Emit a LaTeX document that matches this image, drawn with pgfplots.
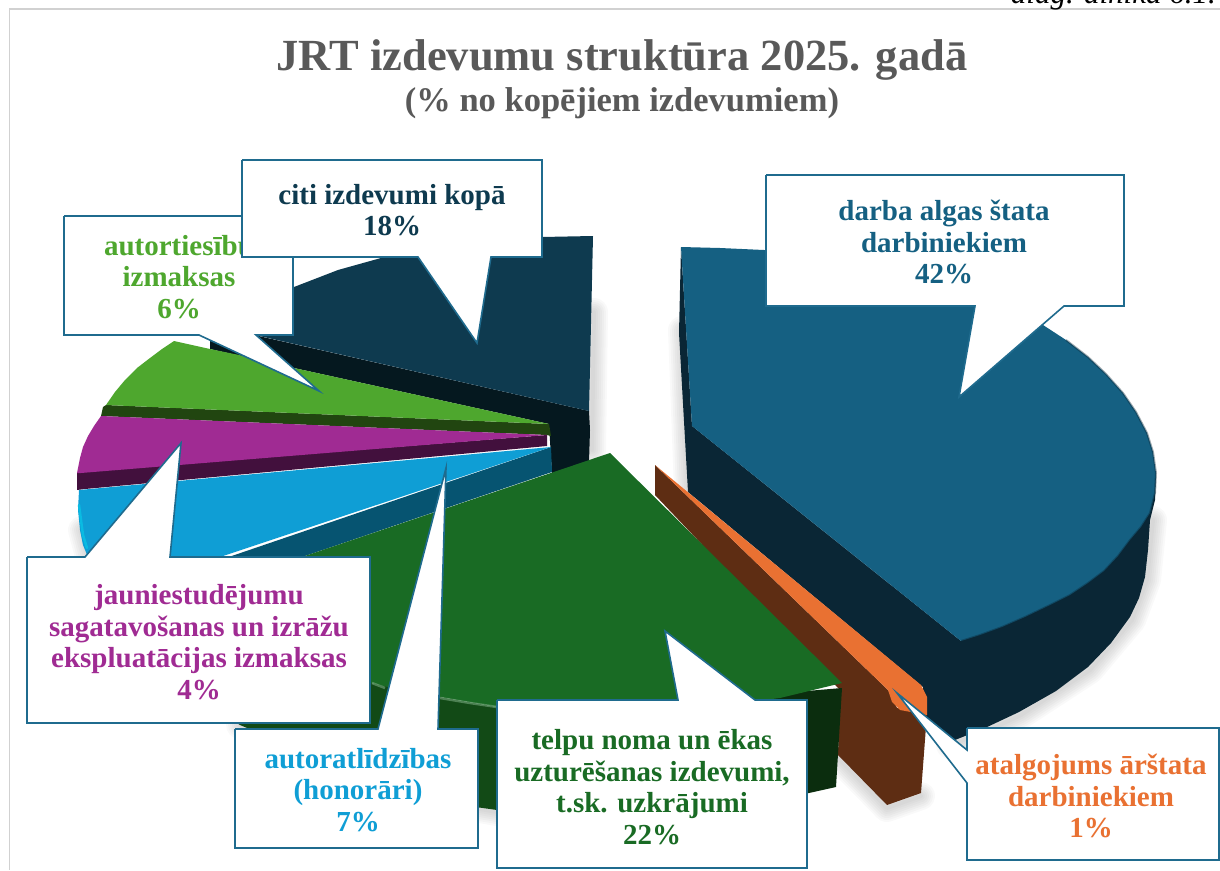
\documentclass[border=0pt]{standalone}
\usepackage{pgfplots}
\pgfplotsset{compat=1.18}
\usepackage{fontspec}
\setmainfont{Liberation Serif}
\definecolor{cblue}{HTML}{156082}
\definecolor{cbluesd}{HTML}{0A2635}
\definecolor{cnavy}{HTML}{0E3A4F}
\definecolor{cnavysd}{HTML}{05181F}
\definecolor{cora}{HTML}{E97132}
\definecolor{corasd}{HTML}{5E2D13}
\definecolor{cgrn}{HTML}{196B24}
\definecolor{cgrnsd}{HTML}{0B2D0E}
\definecolor{cgrnsdl}{HTML}{124A16}
\definecolor{csky}{HTML}{0F9ED5}
\definecolor{cskysd}{HTML}{065471}
\definecolor{cpur}{HTML}{A02B93}
\definecolor{cpursd}{HTML}{42103D}
\definecolor{clim}{HTML}{4EA72E}
\definecolor{climsd}{HTML}{214510}
\definecolor{ctitle}{HTML}{595959}
\definecolor{cbord}{HTML}{1F6B8E}
\newcommand\poly[2]{\addplot[no markers,fill=#1,draw=none,forget plot] coordinates {#2};}
\newcommand\softsh[1]{\pgfplotsinvokeforeach{4,8,12,16,20,24,28}{\addplot[no markers,draw=black,opacity=.022,line width=##1pt,line cap=round,line join=round,forget plot] coordinates {#1};}}
\newcommand\callout[1]{\addplot[no markers,fill=white,draw=cbord,line width=1.6pt,line join=miter,forget plot] coordinates {#1};}
\newcommand\rim[2]{\addplot[no markers,draw=#1,line width=2.5pt,line cap=round,line join=round,forget plot] coordinates {#2};}
\newcommand\lab[4]{\node[text=#1,align=center,inner sep=0pt,font=\fontsize{29}{31.5}\selectfont\bfseries] at (axis cs:#2,#3) {#4};}
\begin{document}
\begin{tikzpicture}
\begin{axis}[scale only axis,width=1220pt,height=870pt,xmin=0,xmax=1220,ymin=0,ymax=870,y dir=reverse,hide axis,clip=true]
% page lines
\addplot[no markers,draw=black!18,line width=1.4pt,forget plot] coordinates {(1220,9) (9.5,9) (9.5,870)};
% soft shadows
\softsh{(682,330) (688,490)}
\softsh{(594,312) (592,450)}
\softsh{(1153,520) (1147,580) (1132,620) (1090,670) (1021,715) (987,731) (950,745)}
\softsh{(240,725) (300,752) (371,778) (440,802) (497,812)}
\softsh{(838,758) (887,808) (921,796)}
\softsh{(82,530) (90,560)}
% citi izdevumi
\poly{cnavysd}{(210,325) (589,411) (590,430) (589,462) (552,475) (549,424) (294,368) (210,349)}
\poly{cnavy}{(210,342) (240,318) (294,287) (338,270) (381,258) (420,250) (460,243) (500,239) (542,237) (593,236) (589,411) (255,335)}
% autortiesibas
\poly{climsd}{(106,405) (103,407) (101,416) (547,435) (551,436) (549,424)}
\poly{clim}{(106,405) (115,392) (125,380) (137,368) (150,358) (162,349) (174,341) (210,349) (239,355) (294,368) (549,424)}
% jauniestudejumu
\poly{cpursd}{(547,435) (547,446) (85,489) (77,490) (77,473) (90,471)}
\poly{cpur}{(101,416) (547,435) (81,473) (77,473) (80,458) (83,447) (88,436) (94,426)}
% autoratlidzibas
\poly{cskysd}{(551,447) (552,472) (302,557) (220,560)}
\poly{csky}{(551,447) (79,490) (78,510) (80,530) (83,545) (90,562) (220,557)}
\rim{csky!70!cyan}{(79,505) (83,535) (87,548)}
% blue side and top
\poly{cbluesd}{(681,247) (692,426) (961,641) (1156,473) (1155,500) (1150,520) (1148,550) (1145,577) (1139,598) (1130,617) (1111,643) (1088,667) (1056,691) (1019,712) (985,728) (955,740) (926,725) (923,687) (688,492) (679,333)}
\poly{cblue}{(681,247) (720,248) (764,250) (850,265) (950,290) (1043,325) (1066,340) (1088,357) (1106,374) (1123,393) (1136,412) (1147,433) (1153,452) (1156,473) (1155,493) (1150,513) (1141,527) (1130,540) (1118,556) (1104,571) (1088,583) (1070,595) (1048,606) (1025,617) (1002,627) (980,635) (961,641) (692,426)}
\addplot[no markers,draw=cbluesd,opacity=.4,line width=2pt,line join=round,forget plot] coordinates {(1066,340) (1088,357) (1106,374) (1123,393) (1136,412) (1147,433) (1153,452) (1156,473) (1155,493) (1150,513) (1141,527) (1130,540) (1118,556) (1104,571) (1088,583) (1070,595) (1048,606) (1025,617) (1002,627) (980,635) (961,641)};
% orange
\poly{corasd}{(655,465) (655,495) (840,690) (838,755) (887,805) (921,793) (927,713) (897,708) (888,690)}
\poly{cora}{(655,465) (921,685) (927,697) (927,715) (900,710) (892,702) (888,690)}
% green
\poly{cgrnsd}{(700,700) (842,688) (836,787) (809,793) (700,806)}
\poly{cgrnsdl}{(225,715) (250,630) (371,683) (440,697) (497,707) (600,712) (700,708) (700,806) (600,812) (497,810) (440,802) (371,775) (300,750) (240,725)}
\poly{cgrn}{(610,453) (302,557) (215,590) (250,630) (371,683) (405,691) (440,697) (497,707) (600,712) (700,708) (780,698) (842,683)}
\addplot[no markers,draw=cgrn!60!white,opacity=.6,line width=2.5pt,forget plot] coordinates {(372,683) (385,688)};
\addplot[no markers,draw=cgrn!60!white,opacity=.6,line width=2.5pt,forget plot] coordinates {(440,698) (470,703) (497,707)};
% callouts
\callout{(64,216) (293,216) (293,335) (256,335) (319,391) (199,335) (64,335) (64,216)}
\lab{clim}{179}{277}{autortiesību\\izmaksas\\6\%}
\callout{(242,160) (542,160) (542,257) (491,257) (477,343) (418,257) (242,257) (242,160)}
\lab{cnavy}{392}{210}{citi izdevumi kopā\\18\%}
\callout{(766,175) (1124,175) (1124,306) (1064,306) (959,397) (975,306) (766,306) (766,175)}
\lab{cblue}{944}{242}{darba algas štata\\darbiniekiem\\42\%}
\callout{(27,557) (85,557) (181,443) (170,557) (370,557) (370,723) (27,723) (27,557)}
\lab{cpur}{199}{642}{jauniestudējumu\\sagatavošanas un izrāžu\\ekspluatācijas izmaksas\\4\%}
\callout{(235,729) (378,729) (446,468) (438,729) (478,729) (478,848) (235,848) (235,729)}
\lab{csky}{358}{790}{autoratlīdzības\\(honorāri)\\7\%}
\callout{(497,700) (678,700) (665,631) (755,700) (807,700) (807,868) (497,868) (497,700)}
\lab{cgrn}{652}{787}{telpu noma un ēkas\\uzturēšanas izdevumi,\\t.sk. uzkrājumi\\22\%}
\callout{(967,728) (1219,728) (1219,860) (967,860) (967,783) (897,693) (967,750) (967,728)}
\lab{cora}{1091}{796}{atalgojums ārštata\\darbiniekiem\\1\%}
% titles
\node[text=ctitle,inner sep=0pt,font=\fontsize{44.5}{46}\selectfont\bfseries] at (axis cs:622,60) {JRT izdevumu struktūra 2025. gadā};
\node[text=ctitle,inner sep=0pt,font=\fontsize{34.5}{36}\selectfont\bfseries] at (axis cs:622,103) {(\% no kopējiem izdevumiem)};
\node[text=black,inner sep=0pt,anchor=base east,font=\fontsize{31}{31}\selectfont\itshape] at (axis cs:1216,3) {diag. dinīka 6.1.};
\end{axis}
\pgfresetboundingbox
\useasboundingbox (0,0) rectangle (1220pt,870pt);
\end{tikzpicture}
\end{document}
